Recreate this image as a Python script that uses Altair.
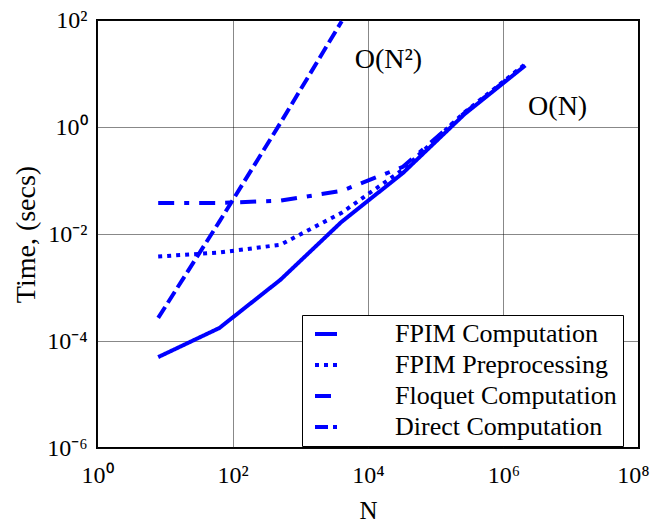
import altair as alt
import pandas as pd

# ---- data ----
N = [8, 64, 512, 4096, 32768, 262144, 2097152]
fpim_comp = [5.0e-5, 1.75e-4, 1.4e-3, 1.7e-2, 0.138, 1.71, 14.1]
fpim_pre = [3.8e-3, 4.5e-3, 6.3e-3, 2.5e-2, 0.16, 1.85, 15.0]
floquet = [3.8e-2, 3.8e-2, 4.2e-2, 6.4e-2, 0.18, 1.8, 14.5]
N_direct = [8, 64, 512, 4096]
direct = [2.7e-4, 1.7e-2, 1.2, 95.0]

series_names = ["FPIM Computation", "FPIM Preprocessing",
                "Floquet Computation", "Direct Computation"]
dash_patterns = [[1, 0], [4, 5], [16, 10, 5, 10], [13, 5]]

ann_text = ["O(N²)", "O(N)"]
ann_x = [2.0e4, 6.3e6]
ann_y = [18.0, 2.4]

x_ticks = [1, 1e2, 1e4, 1e6, 1e8]
y_ticks = [1e-6, 1e-4, 1e-2, 1, 1e2]
sup = {-6: "10⁻⁶", -4: "10⁻⁴", -2: "10⁻²", 0: "10⁰",
       2: "10²", 4: "10⁴", 6: "10⁶", 8: "10⁸"}

# ---- tables ----
rows = []
for name, xs, ys in [(series_names[0], N, fpim_comp),
                     (series_names[1], N, fpim_pre),
                     (series_names[2], N, floquet),
                     (series_names[3], N_direct, direct)]:
    for xv, yv in zip(xs, ys):
        rows.append({"series": name, "N": xv, "time": yv})
df = pd.DataFrame(rows)
ann = pd.DataFrame({"N": ann_x, "time": ann_y, "label": ann_text})

# label expression: exponent -> "10^k" with unicode superscripts
e = "round(log(datum.value)/LN10)"
label_expr = "''"
for k in sorted(sup):
    label_expr = f"({e} == {k} ? '{sup[k]}' : {label_expr})"

FONT = "Liberation Serif"

x_axis = alt.Axis(values=x_ticks, labelExpr=label_expr, grid=True,
                  gridDash=[1, 1], gridColor="#111", gridWidth=1,
                  ticks=False, tickSize=0, domain=False,
                  labelFont=FONT, labelFontSize=24, labelColor="black",
                  labelPadding=15, labelFlush=False, labelOverlap=False,
                  labelOffset={"condition": {"test": "datum.value >= 1e8", "value": -6},
                               "value": 0},
                  title="N", titleFont=FONT, titleFontSize=25,
                  titleFontWeight="normal", titleColor="black",
                  titleY=70, titleBaseline="alphabetic")
y_axis = alt.Axis(values=y_ticks, labelExpr=label_expr, grid=True,
                  gridDash=[1, 1], gridColor="#111", gridWidth=1,
                  ticks=False, tickSize=0, domain=False,
                  labelFont=FONT, labelFontSize=24, labelColor="black",
                  labelPadding=10, labelFlush=False, labelOverlap=False,
                  title="Time, (secs)", titleFont=FONT, titleFontSize=28,
                  titleFontWeight="normal", titleColor="black",
                  titleX=-71, titleY=214, titleAngle=270,
                  titleAlign="center", titleBaseline="middle")

xs = alt.Scale(type="log", domain=[1, 1e8])
ys = alt.Scale(type="log", domain=[1e-6, 1e2])

legend = alt.Legend(orient="none", legendX=205, legendY=295,
                    direction="vertical", title=None,
                    symbolType="M-2,0H2", symbolSize=121,
                    symbolStrokeWidth=4, symbolStrokeColor="#0000ff",
                    symbolOffset=5, labelOffset=56, labelLimit=0,
                    labelFont=FONT, labelFontSize=26, labelColor="black",
                    padding=6, rowPadding=5,
                    fillColor="white", strokeColor="black")

lines = alt.Chart(df).mark_line(strokeWidth=4, color="#0000ff", clip=True).encode(
    x=alt.X("N:Q", scale=xs, axis=x_axis),
    y=alt.Y("time:Q", scale=ys, axis=y_axis),
    strokeDash=alt.StrokeDash("series:N",
                              scale=alt.Scale(domain=series_names, range=dash_patterns),
                              legend=legend),
)

texts = alt.Chart(ann).mark_text(font=FONT, fontSize=28, color="black",
                                 align="center", baseline="middle").encode(
    x=alt.X("N:Q", scale=xs),
    y=alt.Y("time:Q", scale=ys),
    text="label:N",
)

chart = alt.layer(lines, texts).properties(
    width=542, height=428,
    autosize=alt.AutoSizeParams(type="none"),
    padding={"left": 97, "top": 20, "right": 15, "bottom": 81},
    background="white",
).configure_view(stroke="black", strokeWidth=2)

chart.save("out.html", embed_options={"renderer": "svg", "actions": False})
